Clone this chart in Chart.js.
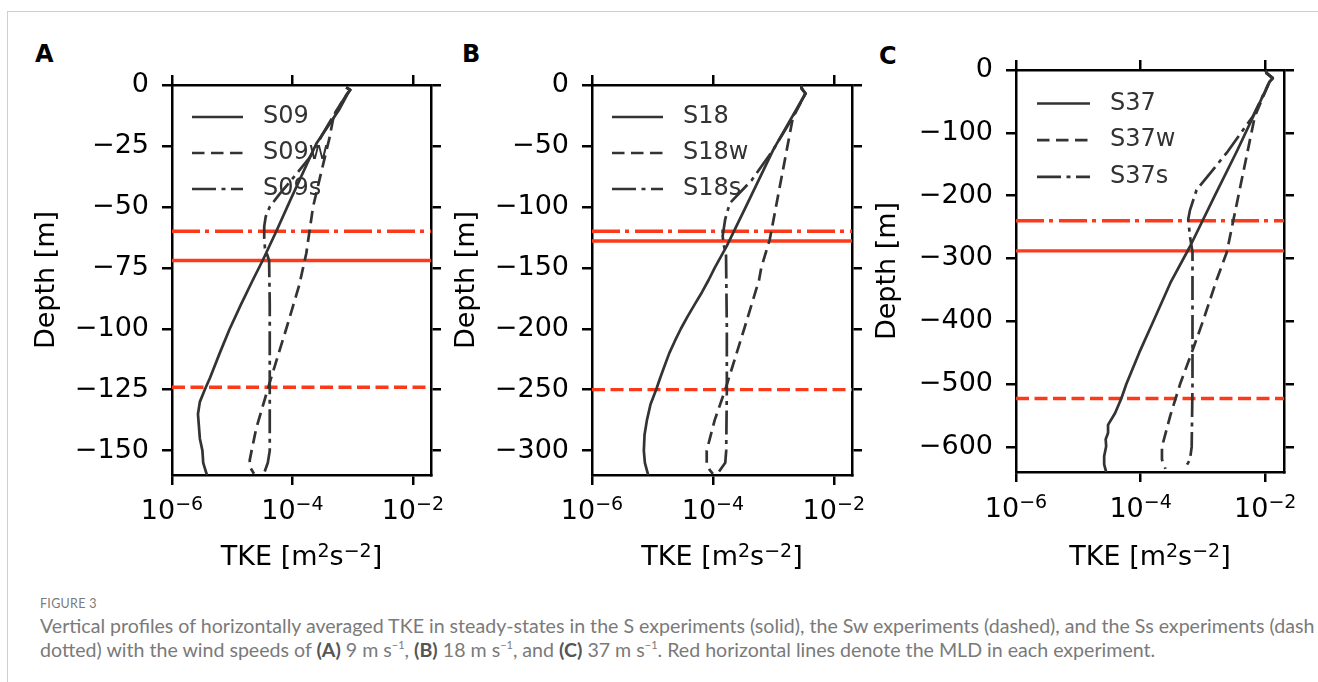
<!DOCTYPE html>
<html>
<head>
<meta charset="utf-8">
<script src="https://cdn.jsdelivr.net/npm/chart.js@4.4.1/dist/chart.umd.min.js"></script>
<style>
    body { margin: 0; width: 1318px; height: 682px; overflow: hidden; position: relative; background: #fff; }
    #frame { position: absolute; left: 7px; top: 11px; width: 1400px; height: 800px; border: 1px solid #cfcfcf; }
    canvas { position: absolute; }
    .letter { position: absolute; font: bold 24px "DejaVu Sans"; line-height: 24px; color: #000; }
    .cap { position: absolute; left: 40px; white-space: nowrap; font-family: Lato, "Open Sans", sans-serif; color: #7a7a7a; }
    .cap b { color: #555; }
    .cap sup { font-size: 11px; line-height: 0; }
    #figno { top: 596px; font-size: 12.5px; letter-spacing: 0.3px; }
    #cap1 { top: 614px; font-size: 19.6px; line-height: 24px; }
    #cap2 { top: 638px; font-size: 19.6px; line-height: 24px; }
</style>
</head>
<body>
<div id="frame"></div>

<div class="letter" style="left:35px;top:42px">A</div>
<div class="letter" style="left:462px;top:42px">B</div>
<div class="letter" style="left:879px;top:44px">C</div>

<canvas id="panelA" width="420" height="525" style="left:31px;top:55px"></canvas>
<canvas id="panelB" width="421" height="525" style="left:451px;top:55px"></canvas>
<canvas id="panelC" width="432" height="540" style="left:872px;top:40px"></canvas>

<div class="cap" id="figno">FIGURE 3</div>
<div class="cap" id="cap1">Vertical profiles of horizontally averaged TKE in steady-states in the S experiments (solid), the Sw experiments (dashed), and the Ss experiments (dash</div>
<div class="cap" id="cap2">dotted) with the wind speeds of <b>(A)</b> 9 m s<sup>&minus;1</sup>, <b>(B)</b> 18 m s<sup>&minus;1</sup>, and <b>(C)</b> 37 m s<sup>&minus;1</sup>. Red horizontal lines denote the MLD in each experiment.</div>

<script>
// shared x axis (TKE, log scale)
const xMin = 1e-6;
const xMax = 2e-2;
const xTickValues = [1e-6, 1e-4, 1e-2];
const xTickExponents = ['\u22126', '\u22124', '\u22122'];

// ---- panel A: 9 m/s ----
const yTicksA = [-150, -125, -100, -75, -50, -25, 0];
const depthS09 = [-1, -2, -3.5, -10, -24, -47, -60, -72, -80, -90, -100, -110, -120, -125, -130, -135, -145, -150, -155, -160];
const tkeS09 = [7.8e-4, 9.1e-4, 8.3e-4, 6.0e-4, 2.5e-4, 9.3e-5, 5.4e-5, 3.2e-5, 2.2e-5, 1.4e-5, 9.1e-6, 6.2e-6, 4.3e-6, 3.5e-6, 2.9e-6, 2.7e-6, 2.9e-6, 3.2e-6, 3.3e-6, 3.8e-6];
const depthS09w = [-1, -2, -4, -12, -22, -39, -50, -69, -82, -100, -122, -141, -150, -154, -157, -159.5];
const tkeS09w = [7.8e-4, 9.1e-4, 7.9e-4, 4.9e-4, 4.1e-4, 2.8e-4, 2.2e-4, 1.7e-4, 1.3e-4, 7.9e-5, 4.2e-5, 2.5e-5, 2.1e-5, 1.95e-5, 2.0e-5, 2.3e-5];
const depthS09s = [-1, -2, -4, -13, -20, -30, -40, -45, -50, -54, -58, -63, -67, -72, -90, -120, -150, -155, -160];
const tkeS09s = [7.8e-4, 9.1e-4, 7.9e-4, 4.7e-4, 3.2e-4, 1.9e-4, 8.9e-5, 6.0e-5, 4.2e-5, 3.6e-5, 3.4e-5, 3.4e-5, 3.5e-5, 4.1e-5, 4.2e-5, 4.2e-5, 4.2e-5, 3.9e-5, 3.3e-5];
const mldA = [-72, -124, -60];  // S09, S09w, S09s

// ---- panel B: 18 m/s ----
const yTicksB = [-300, -250, -200, -150, -100, -50, 0];
const depthS18 = [-1, -3, -7, -53, -100, -132, -150, -160, -170, -180, -190, -200, -210, -220, -230, -240, -250, -262, -275, -287, -300, -310, -320];
const tkeS18 = [2.9e-3, 2.95e-3, 3.4e-3, 1.0e-3, 3.5e-4, 1.7e-4, 1.07e-4, 8.5e-5, 6.6e-5, 5.0e-5, 3.8e-5, 2.95e-5, 2.35e-5, 1.9e-5, 1.6e-5, 1.35e-5, 1.15e-5, 9.3e-6, 8.1e-6, 7.4e-6, 7.2e-6, 7.5e-6, 8.5e-6];
const depthS18w = [-1, -3, -7, -27, -127, -150, -160, -200, -250, -275, -300, -310, -316, -319];
const tkeS18w = [2.9e-3, 2.95e-3, 3.4e-3, 2.1e-3, 8.7e-4, 6.3e-4, 5.8e-4, 3.3e-4, 1.6e-4, 1.07e-4, 7.9e-5, 7.9e-5, 8.9e-5, 1.0e-4];
const depthS18s = [-1, -3, -7, -30, -53, -78, -97, -110, -124, -130, -140, -200, -250, -300, -310, -318];
const tkeS18s = [2.9e-3, 2.95e-3, 3.4e-3, 1.9e-3, 1.0e-3, 4.4e-4, 1.9e-4, 1.6e-4, 1.45e-4, 1.5e-4, 1.65e-4, 1.7e-4, 1.7e-4, 1.66e-4, 1.6e-4, 1.23e-4];
const mldB = [-128, -250, -120];

// ---- panel C: 37 m/s ----
const yTicksC = [-600, -500, -400, -300, -200, -100, 0];
const depthS37 = [-1, -5, -13, -19, -127, -200, -281, -339, -400, -450, -500, -523, -546, -565, -578, -588, -599, -615, -628, -640];
const tkeS37 = [1.02e-2, 1.05e-2, 1.32e-2, 1.17e-2, 3.6e-3, 1.55e-3, 6.2e-4, 3.0e-4, 1.6e-4, 9.5e-5, 5.9e-5, 4.9e-5, 3.9e-5, 3.0e-5, 3.0e-5, 2.75e-5, 2.8e-5, 2.6e-5, 2.6e-5, 2.8e-5];
const depthS37w = [-1, -5, -13, -19, -74, -291, -334, -400, -450, -500, -550, -600, -620, -635];
const tkeS37w = [1.02e-2, 1.05e-2, 1.32e-2, 1.17e-2, 6.8e-3, 2.4e-3, 1.66e-3, 1.0e-3, 6.6e-4, 4.3e-4, 3.0e-4, 2.2e-4, 2.2e-4, 2.5e-4];
const depthS37s = [-1, -5, -13, -19, -74, -132, -191, -223, -238, -265, -290, -400, -500, -600, -620, -635];
const tkeS37s = [1.02e-2, 1.05e-2, 1.32e-2, 1.17e-2, 6.3e-3, 2.4e-3, 7.9e-4, 6.2e-4, 5.8e-4, 6.2e-4, 6.8e-4, 6.8e-4, 6.8e-4, 6.6e-4, 6.2e-4, 5.1e-4];
const mldC = [-288, -523, -240];

const lineColor = '#333333';
const mldColor = '#fc3a1a';
const profileDash = [[], [12.5, 6.5], [24, 5.5, 4, 5.5]];
const mldDash = [[], [13, 5.5], [28, 5, 4, 6]];
const FONT = '"DejaVu Sans"';

Chart.defaults.font.family = "'DejaVu Sans'";
Chart.defaults.color = '#000';

function profile(label, depth, tke, dash) {
    return {
        label: label,
        data: depth.map((d, i) => ({ x: tke[i], y: d })),
        showLine: true,
        borderColor: lineColor,
        borderWidth: 2.7,
        borderDash: dash,
        borderCapStyle: 'butt',
        borderJoinStyle: 'round',
        pointRadius: 0,
        tension: 0
    };
}

function mldLine(depth, dash) {
    return {
        data: [{ x: xMin, y: depth }, { x: xMax, y: depth }],
        showLine: true,
        borderColor: mldColor,
        borderWidth: 3.3,
        borderDash: dash,
        borderCapStyle: 'butt',
        pointRadius: 0
    };
}

// draw a run of [text, size, raise] pieces centred on cx
function drawRich(ctx, parts, cx, baseline) {
    const widths = parts.map(p => {
        ctx.font = p[1] + 'px ' + FONT;
        return ctx.measureText(p[0]).width;
    });
    let x = cx - widths.reduce((a, b) => a + b, 0) / 2;
    parts.forEach((p, i) => {
        ctx.font = p[1] + 'px ' + FONT;
        ctx.fillText(p[0], x, baseline - p[2]);
        x += widths[i];
    });
}

// legend without a frame, drawn inside the upper left of the axes
const profileLegend = {
    id: 'profileLegend',
    afterDatasetsDraw(chart, args, opts) {
        const { ctx, chartArea } = chart;
        ctx.save();
        ctx.font = opts.fontSize + 'px ' + FONT;
        ctx.textBaseline = 'middle';
        ctx.textAlign = 'left';
        chart.data.datasets.filter(ds => ds.label).forEach((ds, i) => {
            const y = chartArea.top + opts.top + opts.rowGap * i;
            const x0 = chartArea.left + opts.lineStart;
            ctx.strokeStyle = ds.borderColor;
            ctx.lineWidth = ds.borderWidth;
            ctx.lineCap = 'butt';
            ctx.setLineDash(ds.borderDash);
            ctx.beginPath();
            ctx.moveTo(x0, y);
            ctx.lineTo(x0 + opts.lineLength, y);
            ctx.stroke();
            ctx.setLineDash([]);
            ctx.fillStyle = '#333';
            ctx.fillText(ds.label, chartArea.left + opts.textStart, y);
        });
        ctx.restore();
    }
};

// power-of-ten tick labels and the TKE title with real superscripts
const tkeAxisText = {
    id: 'tkeAxisText',
    afterDraw(chart, args, opts) {
        const { ctx, chartArea } = chart;
        const xs = chart.scales.x;
        ctx.save();
        ctx.fillStyle = '#000';
        ctx.textBaseline = 'alphabetic';
        ctx.textAlign = 'left';
        xTickValues.forEach((v, i) => {
            drawRich(ctx, [['10', 27, 0], [xTickExponents[i], 19, 9]],
                xs.getPixelForValue(v), chartArea.bottom + opts.labelOffset);
        });
        drawRich(ctx, [['TKE [m', 27, 0], ['2', 19, 8.5], ['s', 27, 0], ['\u22122', 19, 8.5], [']', 27, 0]],
            (chartArea.left + chartArea.right) / 2, chartArea.bottom + opts.titleOffset);
        ctx.restore();
    }
};

function frameAxis(extra) {
    return Object.assign({
        grid: { drawOnChartArea: false, drawTicks: true, tickLength: 10, tickColor: '#000', lineWidth: 2.5 },
        border: { display: true, color: '#000', width: 2.5 }
    }, extra);
}

function makePanel(id, names, series, mld, yMin, yTicks, box, legendOpts, textOpts) {
    const datasets = [
        profile(names[0], series[0][0], series[0][1], profileDash[0]),
        profile(names[1], series[1][0], series[1][1], profileDash[1]),
        profile(names[2], series[2][0], series[2][1], profileDash[2]),
        mldLine(mld[0], mldDash[0]),
        mldLine(mld[1], mldDash[1]),
        mldLine(mld[2], mldDash[2])
    ];
    const setX = ax => { ax.ticks = xTickValues.map(v => ({ value: v })); };
    const setY = ax => { ax.ticks = yTicks.map(v => ({ value: v })); };

    return new Chart(document.getElementById(id), {
        type: 'scatter',
        data: { datasets: datasets },
        plugins: [profileLegend, tkeAxisText],
        options: {
            responsive: false,
            animation: false,
            layout: { padding: 0 },
            plugins: {
                legend: { display: false },
                tooltip: { enabled: false },
                profileLegend: legendOpts,
                tkeAxisText: textOpts
            },
            scales: {
                x: frameAxis({
                    type: 'logarithmic', position: 'bottom', min: xMin, max: xMax,
                    afterBuildTicks: setX,
                    afterFit: ax => { ax.height = box.bottom; },
                    ticks: { display: false }
                }),
                x2: frameAxis({
                    type: 'logarithmic', position: 'top', min: xMin, max: xMax,
                    afterBuildTicks: setX,
                    afterFit: ax => { ax.height = box.top; },
                    ticks: { display: false }
                }),
                y: frameAxis({
                    type: 'linear', position: 'left', min: yMin, max: 0,
                    afterBuildTicks: setY,
                    afterFit: ax => { ax.width = box.left; },
                    ticks: { callback: v => v === 0 ? '0' : '\u2212' + Math.abs(v), font: { size: 27 }, color: '#000', padding: 13, autoSkip: false },
                    title: { display: true, text: 'Depth [m]', font: { size: 27 }, color: '#000', padding: 0 }
                }),
                y2: frameAxis({
                    type: 'linear', position: 'right', min: yMin, max: 0,
                    afterBuildTicks: setY,
                    afterFit: ax => { ax.width = box.right; },
                    ticks: { display: false }
                })
            }
        }
    });
}

makePanel('panelA', ['S09', 'S09w', 'S09s'],
    [[depthS09, tkeS09], [depthS09w, tkeS09w], [depthS09s, tkeS09s]],
    mldA, -160, yTicksA,
    { left: 141, right: 20, top: 30, bottom: 105 },
    { fontSize: 24, top: 32, rowGap: 36, lineStart: 20, lineLength: 51, textStart: 91 },
    { labelOffset: 44, titleOffset: 90 });

makePanel('panelB', ['S18', 'S18w', 'S18s'],
    [[depthS18, tkeS18], [depthS18w, tkeS18w], [depthS18s, tkeS18s]],
    mldB, -320, yTicksB,
    { left: 141, right: 20, top: 30, bottom: 105 },
    { fontSize: 24, top: 32, rowGap: 36, lineStart: 20, lineLength: 51, textStart: 91 },
    { labelOffset: 44, titleOffset: 90 });

makePanel('panelC', ['S37', 'S37w', 'S37s'],
    [[depthS37, tkeS37], [depthS37w, tkeS37w], [depthS37s, tkeS37s]],
    mldC, -640, yTicksC,
    { left: 144, right: 20, top: 30, bottom: 108 },
    { fontSize: 24, top: 33.5, rowGap: 36.7, lineStart: 21, lineLength: 53, textStart: 94 },
    { labelOffset: 45, titleOffset: 93 });
</script>
</body>
</html>
